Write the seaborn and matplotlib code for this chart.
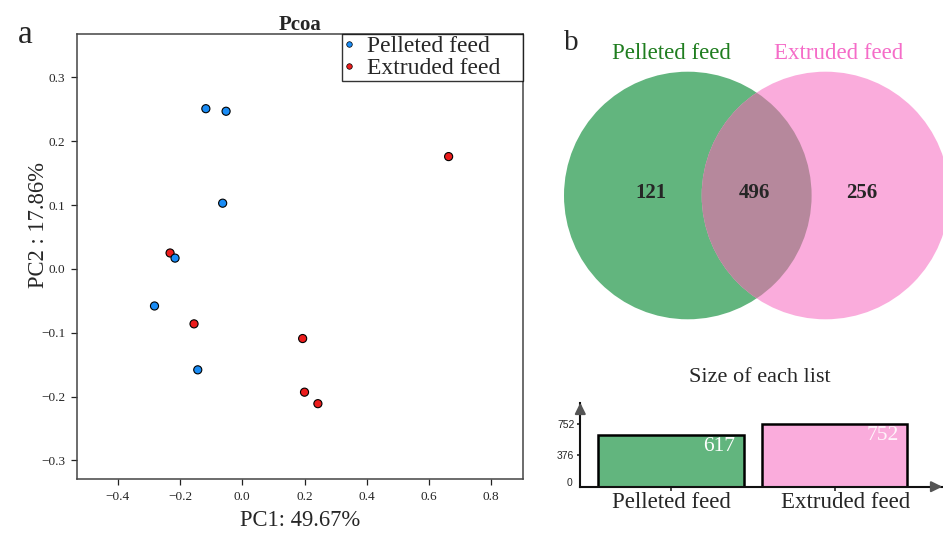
import numpy as np
import pandas as pd
import matplotlib
matplotlib.use("Agg")
import matplotlib.pyplot as plt
import seaborn as sns
from matplotlib.patches import Circle
from matplotlib.lines import Line2D
from matplotlib.transforms import ScaledTranslation

# ---------------- data ----------------
groups = ["Pelleted feed", "Extruded feed"]
pellet_pc1 = [-0.117, -0.052, -0.063, -0.216, -0.282, -0.143]
pellet_pc2 = [0.251, 0.247, 0.103, 0.017, -0.058, -0.158]
extruded_pc1 = [0.663, -0.232, -0.155, 0.194, 0.200, 0.243]
extruded_pc2 = [0.176, 0.025, -0.086, -0.109, -0.193, -0.211]

venn_only_pellet = 121
venn_shared = 496
venn_only_extruded = 256
set_sizes = [617, 752]

pc1_ticks = [-0.4, -0.2, 0.0, 0.2, 0.4, 0.6, 0.8]
pc2_ticks = [-0.3, -0.2, -0.1, 0.0, 0.1, 0.2, 0.3]
size_ticks = [376, 752]

# ---------------- style ----------------
sns.set_style("white")
plt.rcParams["font.family"] = ["Liberation Serif", "DejaVu Serif"]
plt.rcParams["axes.unicode_minus"] = True

W, H = 943, 534
fig = plt.figure(figsize=(W / 100, H / 100), dpi=100)


def px_axes(l, t, r, b):
    return fig.add_axes([l / W, 1 - b / H, (r - l) / W, (b - t) / H])


blue = "#1A8CF5"
red = "#EC1C1C"
green_fill = "#62B57E"
pink_fill = "#FAACDC"
inter_fill = "#B6889C"

# ---------------- panel a: PCoA ----------------
ax = px_axes(77, 34, 522.7, 479)
df = pd.DataFrame({
    "PC1": extruded_pc1 + pellet_pc1,
    "PC2": extruded_pc2 + pellet_pc2,
    "group": [groups[1]] * len(extruded_pc1) + [groups[0]] * len(pellet_pc1),
})
sns.scatterplot(data=df, x="PC1", y="PC2", hue="group", hue_order=groups,
                palette=[blue, red], s=34, edgecolor="black", linewidth=0.8,
                legend=False, ax=ax, zorder=3)
ax.set_xlim(-0.531, 0.901)
ax.set_ylim(-0.329, 0.368)
ax.set_xticks(pc1_ticks)
ax.set_yticks(pc2_ticks)
ax.set_xticklabels([f"{v:.1f}".replace("-", "\u2212") for v in pc1_ticks])
ax.set_yticklabels([f"{v:.1f}".replace("-", "\u2212") for v in pc2_ticks])
ax.tick_params(axis="both", direction="out", length=4.3, width=0.9,
               color="#222", labelsize=9.5, pad=4, left=True, bottom=True)
for sp in ax.spines.values():
    sp.set_color("#444")
    sp.set_linewidth(1.1)
ax.set_xlabel("PC1: 49.67%", fontsize=16.3)
ax.set_ylabel("PC2 : 17.86%", fontsize=16.3)
ax.xaxis.set_label_coords(0.5, -0.07)
ax.yaxis.set_label_coords(-0.063, 0.57)
ax.set_title("Pcoa", fontsize=15, fontweight="bold", pad=3)

handles = [Line2D([], [], marker="o", ls="", ms=4, mfc=c, mec="black", mew=0.5)
           for c in (blue, red)]
leg_x0 = (342 - 77) / (522.7 - 77)
leg = ax.legend(handles, groups, loc="upper left", mode="expand",
                bbox_to_anchor=(leg_x0, 0.0, 1 - leg_x0, 1.0), fontsize=17,
                frameon=True, fancybox=False, borderaxespad=0, borderpad=0.08,
                labelspacing=0.02, handlelength=0.42, handletextpad=0.55)
leg.get_frame().set_edgecolor("black")
leg.get_frame().set_linewidth(1.0)

fig.text(25.5 / W, 1 - 43 / H, "a", fontsize=24, ha="center", va="baseline")
fig.text(571 / W, 1 - 50 / H, "b", fontsize=21, ha="center", va="baseline")

# ---------------- panel b: Venn ----------------
vax = px_axes(540, 0, 943, 340)
vax.set_xlim(540, 943)
vax.set_ylim(340, 0)
vax.axis("off")
r = 123.8
c1 = Circle((687.8, 195.5), r, facecolor=green_fill, edgecolor="none")
c2 = Circle((825.5, 195.5), r, facecolor=pink_fill, edgecolor="none")
vax.add_patch(c1)
vax.add_patch(c2)
c3 = Circle((825.5, 195.5), r, facecolor=inter_fill, edgecolor="none")
vax.add_patch(c3)
c3.set_clip_path(c1)

vax.text(671.7, 59, groups[0], color="#1F7D1F", fontsize=16.5, ha="center", va="baseline")
vax.text(839, 59, groups[1], color="#F56CC8", fontsize=16.5, ha="center", va="baseline")
for xx, val in zip((650.5, 754.5, 862), (venn_only_pellet, venn_shared, venn_only_extruded)):
    vax.text(xx, 198, str(val), fontsize=15, fontweight="bold", ha="center", va="baseline")

fig.text(759.5 / W, 1 - 382 / H, "Size of each list", fontsize=16, ha="center", va="baseline")

# ---------------- panel b: bar chart of set sizes ----------------
bax = px_axes(580.3, 402.7, 942.3, 486.7)
bdf = pd.DataFrame({"set": groups, "size": set_sizes})
sns.barplot(data=bdf, x="set", y="size", hue="set", palette=[green_fill, pink_fill],
            width=0.888, edgecolor="black", linewidth=1.8, saturation=1,
            legend=False, ax=bax)
bax.set_xlim(-0.554, 1.657)
bax.set_ylim(0, 1012)
bax.set_xlabel("")
bax.set_ylabel("")
for s in ("top", "right"):
    bax.spines[s].set_visible(False)
for s in ("left", "bottom"):
    bax.spines[s].set_color("#111")
    bax.spines[s].set_linewidth(1.5)
bax.set_yticks(size_ticks)
bax.set_yticklabels([str(v) for v in size_ticks], fontfamily="Liberation Sans", fontsize=7.5)
bax.tick_params(axis="y", direction="out", length=2.3, width=1.2, pad=2, left=True)
bax.tick_params(axis="x", direction="out", length=3, width=1.2, pad=0.5, labelsize=16.5, bottom=True)
shift = ScaledTranslation(11 / 100, 0, fig.dpi_scale_trans)
lbl = bax.get_xticklabels()[1]
lbl.set_transform(lbl.get_transform() + shift)
bax.annotate("0", xy=(0, 0), xycoords="axes fraction", xytext=(-5.8, 2.6),
             textcoords="offset points", ha="right", va="center",
             fontfamily="Liberation Sans", fontsize=7.5)

arrow_kw = dict(arrowstyle="-|>,head_length=0.65,head_width=0.32", color="#555",
                lw=1.5, shrinkA=0, shrinkB=0, mutation_scale=10)
bax.annotate("", xy=(1, 0), xycoords="axes fraction", xytext=(-7, 0),
             textcoords="offset points", arrowprops=arrow_kw, annotation_clip=False)
bax.annotate("", xy=(0, 1), xycoords="axes fraction", xytext=(0, -7),
             textcoords="offset points", arrowprops=arrow_kw, annotation_clip=False)

for i, v in enumerate(set_sizes):
    bax.annotate(str(v), xy=(i + 0.444, v), xycoords="data", xytext=(-6.2, -1),
                 textcoords="offset points", ha="right", va="top",
                 color="white" if i == 0 else "#FFF4FA", fontsize=15.5)

fig.savefig("out.png", dpi=100)
